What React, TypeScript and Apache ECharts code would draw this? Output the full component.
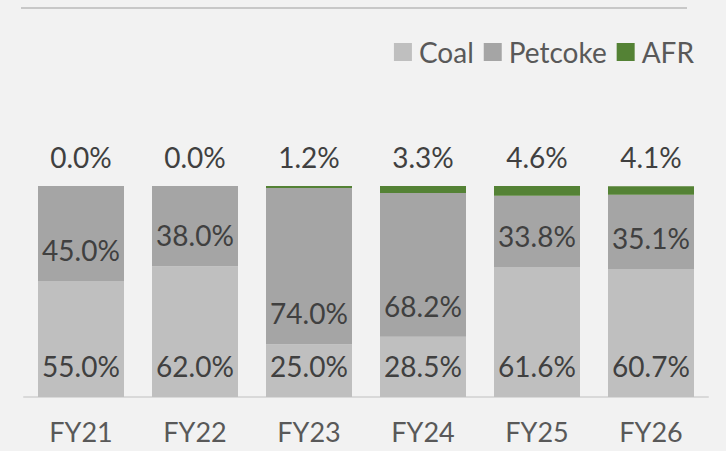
import React, { useEffect, useRef } from "react";
import * as echarts from "echarts";

const categories = ["FY21", "FY22", "FY23", "FY24", "FY25", "FY26"];
const coal = [55.0, 62.0, 25.0, 28.5, 61.6, 60.7];
const petcoke = [45.0, 38.0, 74.0, 68.2, 33.8, 35.1];
const afr = [0.0, 0.0, 1.2, 3.3, 4.6, 4.1];

const FONT = "Lato";
const fmt = (p: any) => `${Number(p.value).toFixed(1)}%`;

export default function App() {
  const ref = useRef<HTMLDivElement>(null);
  useEffect(() => {
    if (!ref.current) return;
    const chart = echarts.init(ref.current, undefined, { renderer: "svg" });
    const labelBase = {
      show: true,
      formatter: fmt,
      fontFamily: FONT,
      fontSize: 28,
      lineHeight: 28,
      color: "#404040",
    };
    chart.setOption({
      animation: false,
      backgroundColor: "#f2f2f2",
      textStyle: { fontFamily: FONT },
      graphic: [
        {
          type: "line",
          shape: { x1: 21, y1: 8, x2: 687, y2: 8 },
          style: { stroke: "#c8c8c8", lineWidth: 2 },
        },
      ],
      legend: {
        right: 27,
        top: 33,
        itemWidth: 18,
        itemHeight: 18,
        itemGap: 10,
        icon: "rect",
        textStyle: { fontFamily: FONT, fontSize: 28, color: "#595959", padding: [0, 0, 0, 2] },
        data: ["Coal", "Petcoke", "AFR"],
      },
      grid: { left: 24, right: 18, top: 186, bottom: 54 },
      xAxis: {
        type: "category",
        data: categories,
        axisLine: { lineStyle: { color: "#d9d9d9", width: 2 } },
        axisTick: { show: false },
        axisLabel: { fontFamily: FONT, fontSize: 27, lineHeight: 27, color: "#595959", margin: 21 },
      },
      yAxis: {
        type: "value",
        min: 0,
        max: 100,
        show: false,
        splitLine: { show: false },
      },
      series: [
        {
          name: "Coal",
          type: "bar",
          stack: "total",
          barWidth: 86,
          data: coal,
          itemStyle: { color: "#bfbfbf" },
          label: { ...labelBase, position: "insideBottom", distance: 17 },
        },
        {
          name: "Petcoke",
          type: "bar",
          stack: "total",
          barWidth: 86,
          data: petcoke,
          itemStyle: { color: "#a5a5a5" },
          label: { ...labelBase, position: "insideBottom", distance: 17 },
        },
        {
          name: "AFR",
          type: "bar",
          stack: "total",
          barWidth: 86,
          data: afr,
          itemStyle: { color: "#548235" },
          label: { ...labelBase, position: "top", distance: 15 },
        },
      ],
    });
    return () => chart.dispose();
  }, []);
  return (
    <div
      ref={ref}
      style={{ position: "fixed", left: 0, top: 0, width: 726, height: 451 }}
    />
  );
}
